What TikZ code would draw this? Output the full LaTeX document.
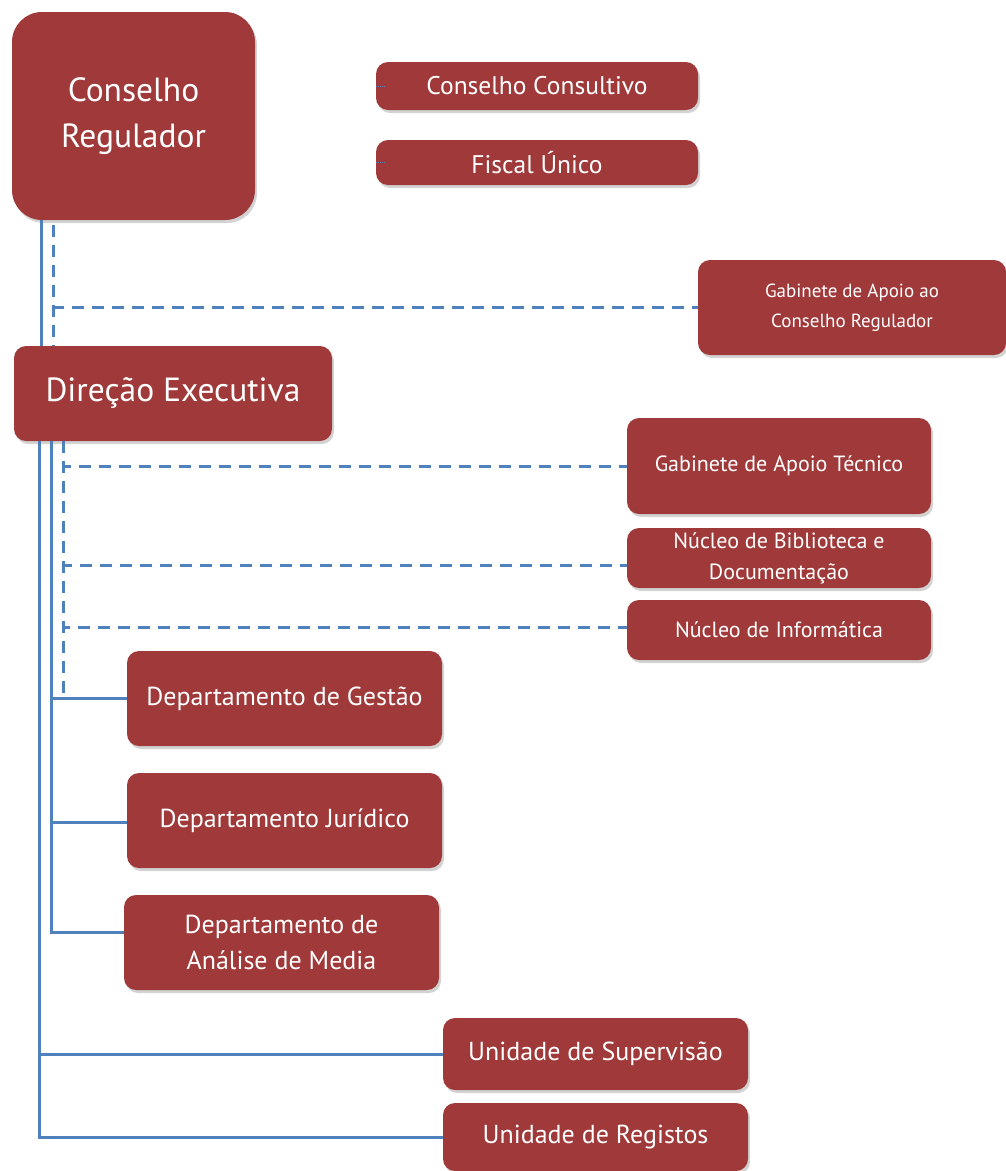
\documentclass[tikz,border=0pt]{standalone}
\usepackage{fontspec}
\setmainfont{PT Sans}
\usetikzlibrary{shadows}
\definecolor{boxred}{RGB}{160,58,58}
\definecolor{lnblue}{RGB}{79,129,189}

\begin{document}
\begin{tikzpicture}[x=1pt,y=-1pt,
    unit/.style={rectangle,rounded corners=12pt,fill=boxred,text=white,
      align=center,inner sep=0pt,
      drop shadow={shadow xshift=2pt,shadow yshift=-3pt,opacity=0.35},
      font=\fontsize{26}{32}\selectfont},
    link/.style={draw=lnblue,line width=3pt},
    dlink/.style={link,dash pattern=on 12pt off 8pt}]

  \useasboundingbox (0,0) rectangle (1006,1171);

  \node[unit,minimum width=243pt,minimum height=208pt,rounded corners=30pt,
    font=\fontsize{33.5}{46}\selectfont] (cr) at (133.5,116) {Conselho\\Regulador};
  \node[unit,minimum width=322pt,minimum height=48pt,
    font=\fontsize{25.5}{32}\selectfont] (cc) at (537,86) {Conselho Consultivo};
  \node[unit,minimum width=322pt,minimum height=45pt,
    font=\fontsize{25.5}{32}\selectfont] (fu) at (537,162.5) {Fiscal Único};
  \node[unit,minimum width=308pt,minimum height=95pt,
    font=\fontsize{19}{30}\selectfont] (gacr) at (852,307.5) {Gabinete de Apoio ao\\Conselho Regulador};
  \node[unit,minimum width=318pt,minimum height=95pt,
    font=\fontsize{33.5}{40}\selectfont] (de) at (173,393.5) {Direção Executiva};
  \node[unit,minimum width=304pt,minimum height=96pt,
    font=\fontsize{22}{30}\selectfont] (gat) at (779,466) {Gabinete de Apoio Técnico};
  \node[unit,minimum width=304pt,minimum height=60pt,
    font=\fontsize{22}{31}\selectfont] (nbd) at (779,558) {Núcleo de Biblioteca e\\Documentação};
  \node[unit,minimum width=304pt,minimum height=60pt,
    font=\fontsize{22}{30}\selectfont] (ni) at (779,630) {Núcleo de Informática};
  \node[unit,minimum width=315pt,minimum height=95pt] (dg) at (284.5,698.5) {Departamento de Gestão};
  \node[unit,minimum width=315pt,minimum height=95pt] (dj) at (284.5,820.5) {Departamento Jurídico};
  \node[unit,minimum width=315pt,minimum height=95pt,
    font=\fontsize{26}{36}\selectfont] (dam) at (281.5,942.5) {Departamento de\\Análise de Media};
  \node[unit,minimum width=305pt,minimum height=72pt] (us) at (595.5,1054) {Unidade de Supervisão};
  \node[unit,minimum width=305pt,minimum height=68pt] (ur) at (595.5,1137) {Unidade de Registos};

  % conselho regulador
  \draw[link] ([xshift=30pt]cr.south west) -- ([xshift=28pt]de.north west);
  \draw[dlink] ([xshift=42pt,yshift=-5pt]cr.south west) -- ([xshift=40pt]de.north west);
  \draw[dlink] ([xshift=42pt,yshift=-5pt]cr.south west) |- (gacr.west);
  \draw[lnblue,densely dotted,line width=1pt] (cc.west) -- ([xshift=10pt]cc.west);
  \draw[lnblue,densely dotted,line width=1pt] (fu.west) -- ([xshift=10pt]fu.west);

  % direcao executiva
  \draw[dlink] ([xshift=50pt]de.south west) |- (gat.west);
  \draw[dlink] ([xshift=50pt]de.south west) |- ([yshift=-7pt]nbd.west);
  \draw[dlink] ([xshift=50pt]de.south west) |- ([yshift=3pt]ni.west);
  \draw[dlink] ([xshift=50pt]de.south west) -- ([xshift=50pt,yshift=6pt]de.south west |- dg.west);
  \draw[link] ([xshift=38pt]de.south west) |- (dg.west);
  \draw[link] ([xshift=38pt]de.south west) |- ([yshift=-2pt]dj.west);
  \draw[link] ([xshift=38pt]de.south west) |- ([yshift=10pt]dam.west);
  \draw[link] ([xshift=26pt]de.south west) |- (us.west);
  \draw[link] ([xshift=26pt]de.south west) |- (ur.west);

\end{tikzpicture}
\end{document}
